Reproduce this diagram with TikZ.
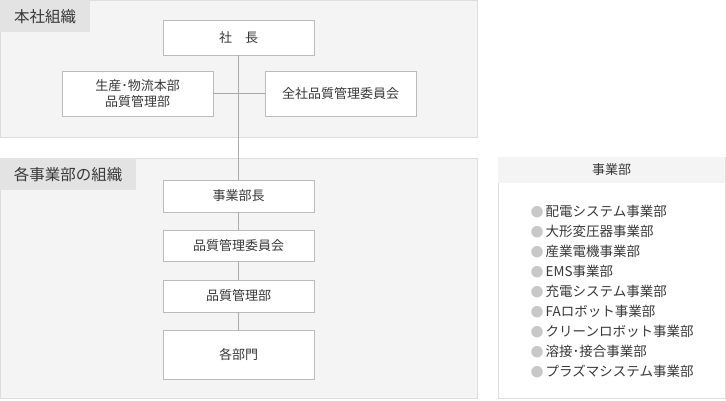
\documentclass[tikz,border=0pt]{standalone}
\usepackage{fontspec}
\setmainfont{Noto Sans CJK JP}
\usetikzlibrary{positioning}
\definecolor{panelfill}{HTML}{F4F4F4}
\definecolor{panelline}{HTML}{DDDDDD}
\definecolor{tabfill}{HTML}{E3E3E3}
\definecolor{boxline}{HTML}{BBBBBB}
\definecolor{linkline}{HTML}{AAAAAA}
\definecolor{ink}{HTML}{383838}
\definecolor{dotfill}{HTML}{C8C8C8}
\tikzset{
  panel/.style = {draw=panelline, fill=panelfill, line width=0.8pt},
  tab/.style   = {rectangle, fill=tabfill, anchor=north west, inner sep=0, text=ink, font=\fontsize{15.5}{18}\selectfont},
  post/.style  = {rectangle, draw=boxline, fill=white, line width=0.8pt, minimum width=151pt, align=center, text=ink, font=\fontsize{13}{16}\selectfont},
  link/.style  = {draw=linkline, line width=0.8pt},
  item/.style  = {anchor=west, inner sep=0, text=ink, font=\fontsize{13.5}{16}\selectfont},
  dot/.style   = {circle, fill=dotfill, minimum size=11.5pt, inner sep=0}
}

\begin{document}
\begin{tikzpicture}[x=1pt, y=-1pt]

  \useasboundingbox (0,0) rectangle (726,400);

  % panels
  \draw[panel] (0.5,0.5) rectangle (477.5,137);
  \draw[panel] (0.5,158) rectangle (477.5,398);
  \draw[panel, fill=white] (498,157) rectangle (725,398);
  \fill[panelfill] (498.4,157.4) rectangle (724.6,183);
  \node[tab, minimum width=90pt, minimum height=32pt] (hq) at (0,0) {本社組織};
  \node[tab, minimum width=136pt, minimum height=32pt] (bd) at (0,158) {各事業部の組織};

  % head office
  \node[post, minimum height=35pt] (pres)  at (238.5, 37.5) {社\hspace{1em}長};
  \node[post, minimum height=45pt] (hqqa)  at (137.5, 93.5) {生産･物流本部\\品質管理部};
  \node[post, minimum height=45pt] (allqc) at (340.5, 93.5) {全社品質管理委員会};

  % business division
  \node[post, minimum height=32pt] (head) at (238.5,196)   {事業部長};
  \node[post, minimum height=31pt] (qcc)  at (238.5,245.5) {品質管理委員会};
  \node[post, minimum height=32pt] (qad)  at (238.5,296)   {品質管理部};
  \node[post, minimum height=49pt] (dept) at (238.5,354.5) {各部門};

  \draw[link] (pres) -- (head);
  \draw[link] (hqqa) -- (allqc);
  \draw[link] (head) -- (qcc);
  \draw[link] (qcc)  -- (qad);
  \draw[link] (qad)  -- (dept);

  % division list
  \node[text=ink, font=\fontsize{13}{16}\selectfont] (bu) at (611.5,170) {事業部};
  \node[dot] (d1) at (537,211.7){}; \node[item] (i1) at (545.5,211.7) {配電システム事業部};
  \node[dot] (d2) at (537,231.7){}; \node[item] (i2) at (545.5,231.7) {大形変圧器事業部};
  \node[dot] (d3) at (537,251.7){}; \node[item] (i3) at (545.5,251.7) {産業電機事業部};
  \node[dot] (d4) at (537,271.7){}; \node[item] (i4) at (545.5,271.7) {EMS事業部};
  \node[dot] (d5) at (537,291.7){}; \node[item] (i5) at (545.5,291.7) {充電システム事業部};
  \node[dot] (d6) at (537,311.7){}; \node[item] (i6) at (545.5,311.7) {FAロボット事業部};
  \node[dot] (d7) at (537,331.7){}; \node[item] (i7) at (545.5,331.7) {クリーンロボット事業部};
  \node[dot] (d8) at (537,351.7){}; \node[item] (i8) at (545.5,351.7) {溶接･接合事業部};
  \node[dot] (d9) at (537,371.7){}; \node[item] (i9) at (545.5,371.7) {プラズマシステム事業部};

\end{tikzpicture}
\end{document}
